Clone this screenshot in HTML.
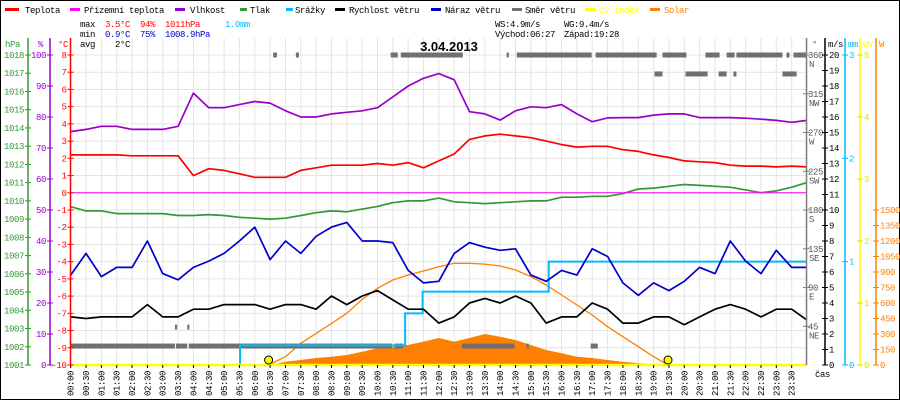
<!DOCTYPE html>
<html><head><meta charset="utf-8"><style>
html,body{margin:0;padding:0;background:#fff}
svg{display:block}
text{font-family:"Liberation Mono",monospace;font-size:9px;letter-spacing:-0.4px}
</style></head><body>
<svg id="c" width="900" height="400" viewBox="0 0 900 400" xmlns="http://www.w3.org/2000/svg">
<rect x="0.5" y="0.5" width="899" height="399" fill="#fff" stroke="#000"/>
<g id="grid"></g>
<g id="series"></g>
<g id="axes"></g>
<g>
 <g><rect x="5" y="8" width="14" height="3" fill="#ff0000"/><text x="25" y="13">Teplota</text></g>
 <g><rect x="70" y="8" width="10" height="3" fill="#ff00ff"/><text x="84" y="13">Přízemní teplota</text></g>
 <g><rect x="175" y="8" width="10" height="3" fill="#9900cc"/><text x="190" y="13">Vlhkost</text></g>
 <g><rect x="240" y="8" width="7" height="3" fill="#339933"/><text x="250" y="13">Tlak</text></g>
 <g><rect x="286" y="8" width="7" height="3" fill="#00bbff"/><text x="295" y="13">Srážky</text></g>
 <g><rect x="335" y="8" width="10" height="3" fill="#000"/><text x="349" y="13">Rychlost větru</text></g>
 <g><rect x="431" y="8" width="10" height="3" fill="#0000cc"/><text x="445" y="13">Náraz větru</text></g>
 <g><rect x="512" y="8" width="10" height="3" fill="#707070"/><text x="525" y="13">Směr větru</text></g>
 <g><rect x="585" y="8" width="10" height="3" fill="#ffff00"/><text x="599" y="13" fill="#ffff00">UV index</text></g>
 <g><rect x="650" y="8" width="10" height="3" fill="#ff8000"/><text x="664" y="13" fill="#ff8000">Solar</text></g>
</g>
<g>
 <text x="80" y="27">max</text><text x="105" y="27" fill="#ff0000">3.5°C</text><text x="140" y="27" fill="#ff0000">94%</text><text x="165" y="27" fill="#ff0000">1011hPa</text><text x="225" y="27" fill="#00bbff">1.0mm</text>
 <text x="80" y="37">min</text><text x="105" y="37" fill="#0000cc">0.9°C</text><text x="140" y="37" fill="#0000cc">75%</text><text x="165" y="37" fill="#0000cc">1008.9hPa</text>
 <text x="80" y="47">avg</text><text x="115" y="47">2°C</text>
 <text x="495" y="27">WS:4.9m/s</text><text x="564" y="27">WG:9.4m/s</text>
 <text x="495" y="37">Východ:06:27</text><text x="564" y="37">Západ:19:28</text>
</g>
<text x="449" y="51" text-anchor="middle" style="font-family:'Liberation Sans',sans-serif;font-size:13px;font-weight:bold;letter-spacing:0">3.04.2013</text>
</svg>
<script>
const hours=[0,0.5,1,1.5,2,2.5,3,3.5,4,4.5,5,5.5,6,6.5,7,7.5,8,8.5,9,9.5,10,10.5,11,11.5,12,12.5,13,13.5,14,14.5,15,15.5,16,16.5,17,17.5,18,18.5,19,19.5,20,20.5,21,21.5,22,22.5,23,23.5,24];
const temperature=[2.2,2.2,2.2,2.2,2.15,2.15,2.15,2.15,1.0,1.4,1.3,1.1,0.9,0.9,0.9,1.3,1.45,1.6,1.6,1.6,1.7,1.6,1.75,1.45,1.85,2.25,3.1,3.3,3.4,3.3,3.2,3.0,2.8,2.65,2.7,2.7,2.5,2.4,2.2,2.05,1.85,1.8,1.75,1.6,1.55,1.55,1.5,1.55,1.5];
const humidity=[75.3,76,77,77,76,76,76,77,87.7,83,83,84,85,84.5,82,80,80,81,81.5,82,83,86.5,90,92.5,94,92,81.7,81,79,82,83.3,83,84,81,78.5,79.7,79.8,79.8,80.6,81,81,79.8,79.8,79.8,79.6,79.3,78.9,78.3,78.9];
const pressure=[1009.68,1009.45,1009.45,1009.3,1009.3,1009.3,1009.3,1009.2,1009.2,1009.25,1009.2,1009.1,1009.05,1009.0,1009.05,1009.2,1009.35,1009.45,1009.4,1009.55,1009.7,1009.9,1010.0,1010.0,1010.15,1009.95,1009.9,1009.85,1009.9,1009.95,1010.0,1010.0,1010.2,1010.2,1010.25,1010.25,1010.4,1010.65,1010.7,1010.8,1010.9,1010.85,1010.8,1010.75,1010.6,1010.45,1010.55,1010.75,1011.0];
const gust=[5.8,7.2,5.7,6.3,6.3,8.0,5.9,5.5,6.3,6.7,7.2,8.0,8.9,6.8,8.0,7.2,8.3,8.9,9.2,8.0,8.0,7.9,6.1,5.3,5.4,7.2,7.9,7.6,7.4,7.5,5.8,5.4,6.1,5.8,7.5,7.0,5.3,4.5,5.3,4.8,5.4,6.3,5.9,8.0,6.7,5.9,7.4,6.3,6.3];
const wind=[3.1,3.0,3.1,3.1,3.1,3.9,3.1,3.1,3.6,3.6,3.9,3.9,3.9,3.6,3.9,3.9,3.6,4.45,3.9,4.45,4.8,4.2,3.6,3.6,2.7,3.1,4.0,4.3,4.0,4.45,4.0,2.7,3.1,3.1,4.0,3.6,2.7,2.7,3.1,3.1,2.6,3.1,3.6,3.9,3.6,3.1,3.6,3.6,2.9];
const solar=[0,0,0,0,0,0,0,0,0,0,0,0,0,0,32,48,68,80,97,129,164,177,194,226,261,226,261,300,274,242,194,145,113,80,68,48,32,16,6,0,0,0,0,0,0,0,0,0,0];
const clearHours=[6.45,7,7.5,8,8.5,9,9.5,10,10.5,11,11.5,12,12.5,13,13.5,14,14.5,15,15.5,16,16.5,17,17.5,18,18.5,19,19.47];
const clearSolar=[0,80,210,306,403,500,636,742,823,871,910,951,984,984,976,958,919,855,774,677,581,484,371,274,177,80,0];
const rainHours=[0,5.52,10.9,11.47,15.58,24];
const rainMM=[0,0.19,0.5,0.71,1.0,1.0];
const apparentHours=[0,24];
const apparentTemp=[0,0];
const uvHours=[0,24];
const uvIndex=[0,0];
const dirStart=[0,3.43,3.85,10.56,12.75,14.86,16.95,3.4,3.8,6.6,7.34,10.43,10.76,14.21,14.54,17.11,19.29,20.69,21.38,21.7,23.33,23.56,19.03,20.04,21.12,21.6,23.2];
const dirEnd=[3.4,3.8,10.47,10.83,14.47,14.93,17.18,3.47,3.87,6.72,7.44,10.66,12.78,14.28,16.98,19.1,20.07,21.15,21.64,23.2,23.43,24,19.29,20.76,21.38,21.7,23.66];
const dirDeg=[22,22,22,22,22,22,22,44,44,360,360,360,360,360,360,360,360,360,360,360,360,360,338,338,338,338,338];
const sunEvents=[6.45,19.47];
const timeLabels=["00:00","00:30","01:00","01:30","02:00","02:30","03:00","03:30","04:00","04:30","05:00","05:30","06:00","06:30","07:00","07:30","08:00","08:30","09:00","09:30","10:00","10:30","11:00","11:30","12:00","12:30","13:00","13:30","14:00","14:30","15:00","15:30","16:00","16:30","17:00","17:30","18:00","18:30","19:00","19:30","20:00","20:30","21:00","21:30","22:00","22:30","23:00","23:30"];
const tempTicks=[8,7,6,5,4,3,2,1,0,-1,-2,-3,-4,-5,-6,-7,-8,-9,-10];
const humTicks=[100,90,80,70,60,50,40,30,20,10,0];
const presTicks=[1018,1017,1016,1015,1014,1013,1012,1011,1010,1009,1008,1007,1006,1005,1004,1003,1002,1001];
const dirTicks=[360,315,270,225,180,135,90,45];
const dirNames=["N","NW","W","SW","S","SE","E","NE"];
const msTicks=[20,19,18,17,16,15,14,13,12,11,10,9,8,7,6,5,4,3,2,1,0];
const mmTicks=[3,2,1,0];
const uvTicks=[5,4,3,2,1,0];
const wTicks=[1500,1350,1200,1050,900,750,600,450,300,150,0];

const X0=70.7,X1=807,YT=55,YB=365,H=YB-YT;
const xT=h=>X0+(X1-X0)*h/24;
const yTemp=v=>YB-H*(v+10)/18;
const yHum=v=>YB-H*v/100;
const yPres=v=>YB-H*(v-1001)/17;
const yMs=v=>YB-H*v/20;
const yDir=v=>YB-H*v/360;
const yMm=v=>YB-H*v/3;
const yUv=v=>YB-H*v/5;
const yW=v=>YB-H*v/3000;
const NS="http://www.w3.org/2000/svg";
function mk(parent,tag,attrs){const e=document.createElementNS(NS,tag);for(const k in attrs)e.setAttribute(k,attrs[k]);parent.appendChild(e);return e;}
const grid=document.getElementById('grid'),ser=document.getElementById('series'),ax=document.getElementById('axes');

for(let i=0;i<=48;i++){const l=mk(grid,'line',{x1:xT(i/2),x2:xT(i/2),y1:YT-17,y2:YB,stroke:'#e4e4e4'});

}
tempTicks.forEach(t=>{const l=mk(grid,'line',{x1:X0,x2:X1,y1:yTemp(t),y2:yTemp(t),stroke:'#e4e4e4'});

});

function line(xs,ys,fy,color,name,w){const pts=xs.map((h,i)=>xT(h).toFixed(1)+','+fy(ys[i]).toFixed(1)).join(' ');
const p=mk(ser,'polyline',{points:pts,fill:'none',stroke:color,'stroke-width':w||1.7,'stroke-linejoin':'round'});

return p;}

{let d='M'+xT(hours[0])+','+yW(0);hours.forEach((h,i)=>{d+=' L'+xT(h).toFixed(1)+','+yW(solar[i]).toFixed(1);});d+=' L'+xT(24)+','+yW(0)+'Z';
const p=mk(ser,'path',{d:d,fill:'#ff8000'});

}
line(clearHours,clearSolar,yW,'#ff8000','solar-clear-sky-line',1.3);
dirStart.forEach((s,i)=>{const r=mk(ser,'rect',{x:xT(s),y:yDir(dirDeg[i])-2.5,width:Math.max(2,xT(dirEnd[i])-xT(s)),height:5,fill:'#707070'});

});
{let pts=[];rainHours.forEach((h,i)=>{if(i>0)pts.push(xT(h)+','+yMm(rainMM[i-1]));pts.push(xT(h)+','+yMm(rainMM[i]));});
const p=mk(ser,'polyline',{points:pts.join(' '),fill:'none',stroke:'#00bbff','stroke-width':2});

}
line(hours,pressure,yPres,'#339933','pressure-line');
line(apparentHours,apparentTemp,yTemp,'#ff00ff','apparent-temperature-line',1);
line(hours,humidity,yHum,'#9900cc','humidity-line');
line(hours,temperature,yTemp,'#ff0000','temperature-line');
line(hours,wind,yMs,'#000000','wind-speed-line');
line(hours,gust,yMs,'#0000cc','wind-gust-line');
line(uvHours,uvIndex,yUv,'#ffff00','uv-index-line',2.5);
sunEvents.forEach((h,i)=>{const c=mk(ser,'circle',{cx:xT(h),cy:YB-5,r:4,fill:'#ffff00',stroke:'#000','stroke-width':1});

});

function vaxis(x,color,name,y1){const l=mk(ax,'line',{x1:x,x2:x,y1:y1||38,y2:YB,stroke:color,'stroke-width':1.5});

}
function ticks(arr,fy,x,color,side,name){arr.forEach(v=>{const y=fy(v);mk(ax,'line',{x1:x-3,x2:x+3,y1:y,y2:y,stroke:color});
const t=mk(ax,'text',{x:side<0?x-4:x+4,y:y+3,fill:color,'text-anchor':side<0?'end':'start'});t.textContent=v;

});}
vaxis(28,'#339933','pressure-axis');ticks(presTicks,yPres,28,'#339933',-1,'pressure-tick-label');
vaxis(50,'#9900cc','humidity-axis');ticks(humTicks,yHum,50,'#9900cc',-1,'humidity-tick-label');
vaxis(70.5,'#ff0000','temperature-axis');ticks(tempTicks,yTemp,70.5,'#ff0000',-1,'temperature-tick-label');
vaxis(806.5,'#808080','direction-axis');
dirTicks.forEach((v,i)=>{const y=yDir(v);mk(ax,'line',{x1:803,x2:810,y1:y,y2:y,stroke:'#808080'});
const t=mk(ax,'text',{x:808,y:y+3,fill:'#555'});t.textContent=v;


const n=mk(ax,'text',{x:809,y:y+12,fill:'#555'});n.textContent=dirNames[i];

});
vaxis(825,'#000','wind-speed-axis');ticks(msTicks,yMs,825,'#000',1,'wind-speed-tick-label');
vaxis(845,'#00bbff','rain-axis');ticks(mmTicks,yMm,845,'#00bbff',1,'rain-tick-label');
vaxis(860,'#ffff00','uv-axis');ticks(uvTicks,yUv,860,'#dddd00',1,'uv-tick-label');
vaxis(876,'#ff8000','solar-axis');ticks(wTicks,yW,876,'#ff8000',1,'solar-tick-label');
timeLabels.forEach((s,i)=>{const x=xT(i/2);mk(ax,'line',{x1:x,x2:x,y1:YB,y2:YB+3,stroke:'#000'});
const t=mk(ax,'text',{x:0,y:0,transform:`translate(${x+3},396) rotate(-90)`});t.textContent=s;

});
const units=[[5,'hPa','#339933'],[38,'%','#9900cc'],[58,'°C','#ff0000'],[812,'°','#555'],[828,'m/s','#000'],[848,'mm','#00bbff'],[863,'UV','#ffff00'],[879,'W','#ff8000']];
units.forEach(u=>{const t=mk(ax,'text',{x:u[0],y:47,fill:u[2]});t.textContent=u[1];

});
{const t=mk(ax,'text',{x:815,y:377});t.textContent='čas';

}
</script>
</body></html>
